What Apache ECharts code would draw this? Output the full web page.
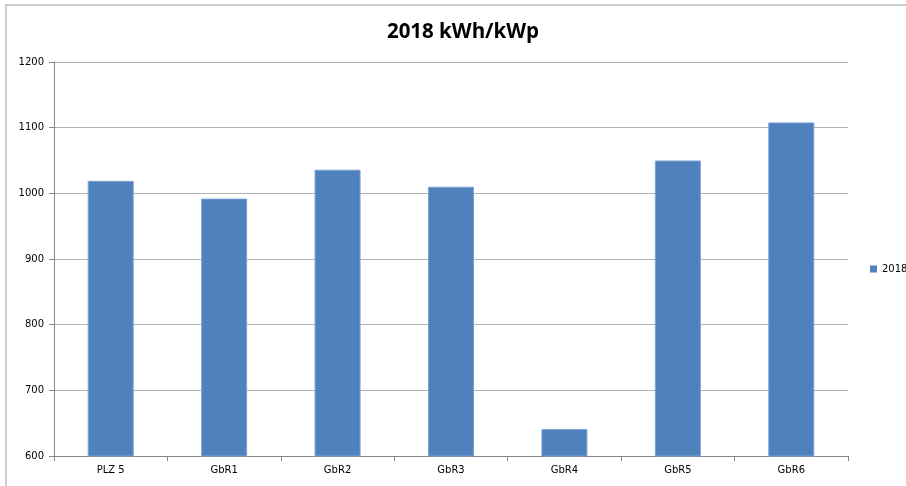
<!DOCTYPE html>
<html>
<head>
<meta charset="utf-8">
<script src="https://cdn.jsdelivr.net/npm/echarts@6/dist/echarts.min.js"></script>
<style>
html,body{margin:0;padding:0;background:#fff;}
#c{width:906px;height:486px;}
</style>
</head>
<body>
<div id="c"></div>
<script>
var categories = ['PLZ 5', 'GbR1', 'GbR2', 'GbR3', 'GbR4', 'GbR5', 'GbR6'];
var values2018 = [1019, 992, 1036, 1010, 641, 1050, 1108];
var seriesName = '2018';
var titleText = '2018 kWh/kWp';

var chart = echarts.init(document.getElementById('c'), null, {renderer: 'canvas'});
chart.setOption({
  animation: false,
  backgroundColor: '#ffffff',
  title: {
    text: titleText,
    left: 458, top: 17, textAlign: 'center',
    textStyle: {fontFamily: 'Open Sans', fontWeight: 'bold', fontSize: 20.5, color: '#000'}
  },
  legend: {
    data: [seriesName],
    left: 865, top: 259,
    itemWidth: 7, itemHeight: 7,
    icon: 'rect',
    itemStyle: {borderWidth: 0},
    textStyle: {fontFamily: 'DejaVu Sans', fontSize: 10, color: '#000', overflow: 'none', width: 40}
  },
  grid: {left: 54, right: 58, top: 62, bottom: 30, containLabel: false},
  xAxis: {
    type: 'category',
    data: categories,
    axisLine: {lineStyle: {color: '#868686', width: 1}},
    axisTick: {show: true, length: 5, alignWithLabel: false, lineStyle: {color: '#868686'}},
    axisLabel: {fontFamily: 'DejaVu Sans', fontSize: 10, color: '#000', margin: 9}
  },
  yAxis: {
    type: 'value',
    min: 600, max: 1200, interval: 100,
    axisLine: {show: true, lineStyle: {color: '#868686', width: 1}},
    axisTick: {show: true, length: 5, lineStyle: {color: '#868686'}},
    splitLine: {lineStyle: {color: '#b3b3b3', width: 1}},
    axisLabel: {fontFamily: 'DejaVu Sans', fontSize: 10, color: '#000', margin: 10,
      formatter: function (v) { return String(v); }}
  },
  series: [{
    name: seriesName,
    type: 'bar',
    data: values2018,
    barWidth: 46,
    itemStyle: {color: '#4f81bd', borderColor: '#7ea2d3', borderWidth: 1}
  }],
  graphic: [
    {type: 'line', shape: {x1: 6, y1: 5, x2: 906, y2: 5}, style: {stroke: '#cccccc', lineWidth: 2}},
    {type: 'line', shape: {x1: 6, y1: 4, x2: 6, y2: 486}, style: {stroke: '#cccccc', lineWidth: 2}}
  ]
});
</script>
</body>
</html>
